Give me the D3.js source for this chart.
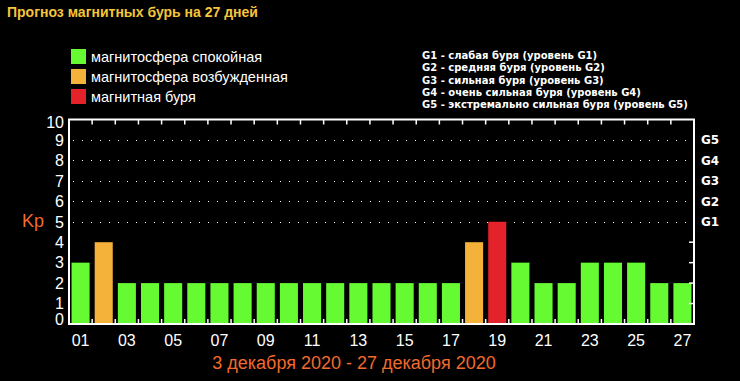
<!DOCTYPE html>
<html><head><meta charset="utf-8">
<script src="https://cdn.jsdelivr.net/npm/d3@7"></script>
<style>body{margin:0;background:#000;}svg{display:block;}</style>
</head><body>
<svg id="c" width="740" height="381"></svg>
<script>
const days = ["01","02","03","04","05","06","07","08","09","10","11","12","13","14","15","16","17","18","19","20","21","22","23","24","25","26","27"];
const kp = [3,4,2,2,2,2,2,2,2,2,2,2,2,2,2,2,2,4,5,3,2,2,3,3,3,2,2];
const yTicks = [0,1,2,3,4,5,6,7,8,9,10];
const gLevels = ["G1","G2","G3","G4","G5"];
const gLevelKp = [5,6,7,8,9];
const legendItems = ["магнитосфера спокойная","магнитосфера возбужденная","магнитная буря"];
const gDescriptions = ["G1 - слабая буря (уровень G1)","G2 - средняя буря (уровень G2)","G3 - сильная буря (уровень G3)","G4 - очень сильная буря (уровень G4)","G5 - экстремально сильная буря (уровень G5)"];
const title = "Прогноз магнитных бурь на 27 дней";
const dateRange = "3 декабря 2020 - 27 декабря 2020";
const colors = ["#66fa33","#f5b23a","#e3222a"];

const svg = d3.select("#c");
svg.append("rect").attr("width",740).attr("height",381).attr("fill","#000");
const L=69,R=694,T=119.5,B=324;
const x = d3.scaleBand().domain(days).range([L,R]).paddingInner(0.22).paddingOuter(0.11);
const y = d3.scaleLinear().domain([0,10]).range([B,T]);
const col = v => v>=5?colors[2]:(v>=4?colors[1]:colors[0]);

svg.append("text").attr("x",7).attr("y",17).attr("fill","#f5c53a")
  .attr("font-family","Liberation Sans").attr("font-weight","bold").attr("font-size",14).text(title);

// legend
const lg = svg.append("g");
legendItems.forEach((t,i)=>{
  lg.append("rect").attr("x",71).attr("y",49+i*20).attr("width",15).attr("height",15).attr("fill",colors[i]);
  lg.append("text").attr("x",91).attr("y",61.5+i*20).attr("fill","#fff").attr("font-family","Liberation Sans").attr("font-size",14.5).text(t);
});
gDescriptions.forEach((t,i)=>{
  svg.append("text").attr("x",422).attr("y",59+i*12.3).attr("fill","#fff").attr("font-family","DejaVu Sans").attr("font-weight","bold").attr("font-size",10).text(t);
});

// grid dotted
gLevelKp.forEach(v=>{
  svg.append("line").attr("x1",L+4).attr("x2",R).attr("y1",Math.round(y(v))+0.5).attr("y2",Math.round(y(v))+0.5)
    .attr("stroke","#fff").attr("stroke-width",1).attr("stroke-dasharray","1,8");
});

// bars
svg.append("g").selectAll("rect").data(kp).join("rect")
  .attr("x",(d,i)=>x(days[i])).attr("width",x.bandwidth())
  .attr("y",d=>y(d)).attr("height",d=>B-y(d)).attr("fill",col);

// frame
const fr = svg.append("g").attr("stroke","#fff").attr("stroke-width",2).attr("fill","none");
fr.append("rect").attr("x",L).attr("y",T).attr("width",R-L).attr("height",B-T);
const sep = days.slice(1).map(d=>x(d)-x.step()*x.paddingInner()/2);
sep.forEach(s=>{
  fr.append("line").attr("x1",s).attr("x2",s).attr("y1",T).attr("y2",T+5).attr("stroke-width",1.5);
  fr.append("line").attr("x1",s).attr("x2",s).attr("y1",B).attr("y2",B-5).attr("stroke-width",1.5);
});
[1,2,3,4].forEach(v=>{
  fr.append("line").attr("x1",R-5).attr("x2",R).attr("y1",y(v)).attr("y2",y(v)).attr("stroke-width",1.5);
});

// y labels
yTicks.forEach(v=>{
  const off = v===0?-5:(v===10?3:0);
  svg.append("text").attr("x",64).attr("y",y(v)+off).attr("dy","0.36em").attr("text-anchor","end")
    .attr("fill","#fff").attr("font-family","Liberation Sans").attr("font-size",16).text(v);
});
svg.append("text").attr("x",22).attr("y",227).attr("fill","#f26a2c").attr("font-family","Liberation Sans").attr("font-size",18).text("Kp");

// G labels
gLevels.forEach((g,i)=>{
  svg.append("text").attr("x",701).attr("y",y(gLevelKp[i])).attr("dy","0.36em").attr("fill","#fff")
    .attr("font-family","DejaVu Sans").attr("font-weight","bold").attr("font-size",12).text(g);
});

// x labels
days.forEach((d,i)=>{
  if(i%2===0) svg.append("text").attr("x",x(d)+x.bandwidth()/2).attr("y",346).attr("text-anchor","middle")
    .attr("fill","#fff").attr("font-family","Liberation Sans").attr("font-size",16).text(d);
});
svg.append("text").attr("x",354).attr("y",369).attr("text-anchor","middle").attr("fill","#f26a2c")
  .attr("font-family","Liberation Sans").attr("font-size",18).text(dateRange);
</script>
</body></html>
